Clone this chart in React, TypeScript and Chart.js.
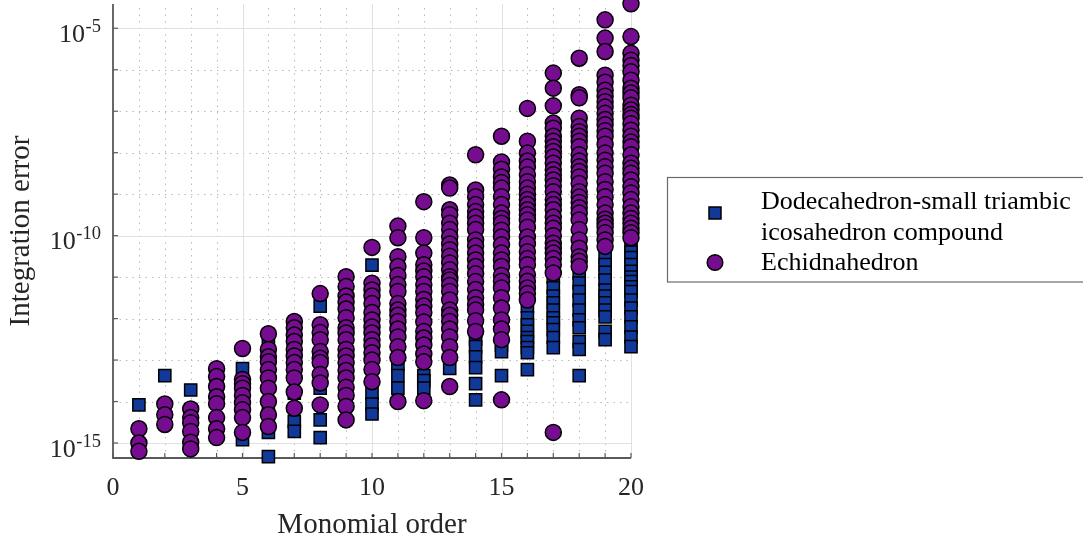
import React, { useEffect, useRef } from "react";
import { Chart, registerables } from "chart.js";

Chart.register(...registerables);

// Monomial orders (x categories)
const ORDERS: number[] = [1, 2, 3, 4, 5, 6, 7, 8, 9, 10, 11, 12, 13, 14, 15, 16, 17, 18, 19, 20];

// Integration errors, Dodecahedron-small triambic icosahedron compound (one list per order)
const DODECA_ERRORS: number[][] = [
  [8.3e-15],
  [4.2e-14],
  [1.9e-14, 6.3e-15],
  [2.3e-14, 1e-14],
  [6.2e-14, 2.5e-14, 1.2e-15],
  [2.5e-13, 5e-15, 1.8e-15, 4.7e-16],
  [1.6e-14, 3.3e-15, 1.9e-15],
  [2.0e-12, 2.1e-14, 3.6e-15, 1.35e-15],
  [4e-13, 6.3e-14, 1.26e-14],
  [1.95e-11, 1.6e-14, 8.7e-15, 5.0e-15],
  [1.26e-13, 7.9e-14, 4.2e-14, 2.1e-14],
  [2e-13, 4.2e-14, 3.2e-14, 2.1e-14],
  [1.26e-12, 2.5e-13, 6.3e-14],
  [9.3e-13, 5e-13, 3.2e-13, 2.1e-13, 1.2e-13, 6.6e-14, 2.7e-14, 1.1e-14],
  [1.26e-12, 5.4e-13, 2.3e-13, 1.6e-13, 4.2e-14],
  [2e-12, 1.05e-12, 7.1e-13, 4.9e-13, 3.5e-13, 2.8e-13, 2e-13, 1.5e-13, 5.9e-14],
  [1e-11, 5.5e-12, 3.5e-12, 2.4e-12, 1.6e-12, 1.05e-12, 7.9e-13, 5.4e-13, 3.5e-13, 2.0e-13],
  [1.26e-11, 7.2e-12, 4.5e-12, 2.8e-12, 1.6e-12, 9.3e-13, 6.0e-13, 2.8e-13, 1.8e-13, 4.2e-14],
  [2.95e-11, 2.0e-11, 1.3e-11, 8.5e-12, 4.9e-12, 3.5e-12, 2.4e-12, 1.6e-12, 1.1e-12, 4.9e-13, 3.1e-13],
  [5.5e-11, 4e-11, 2.95e-11, 2e-11, 1.38e-11, 1e-11, 7.8e-12, 5.8e-12, 4.5e-12, 2.8e-12, 1.8e-12, 1.1e-12, 6.3e-13, 3.6e-13, 2.1e-13],
];

// Integration errors, Echidnahedron (one list per order)
const ECHIDNA_ERRORS: number[][] = [
  [2.2e-15, 1e-15, 6.3e-16],
  [8.7e-15, 4.8e-15, 2.8e-15],
  [6.6e-15, 4.1e-15, 3.1e-15, 1.9e-15, 1.05e-15, 7.2e-16],
  [6.2e-14, 4.0e-14, 2.3e-14, 1.3e-14, 8.9e-15, 4.1e-15, 2.2e-15, 1.35e-15],
  [1.9e-13, 3.4e-14, 2.7e-14, 2.1e-14, 1.4e-14, 9.3e-15, 6.3e-15, 4.1e-15, 1.8e-15],
  [4.3e-13, 1.8e-13, 1.2e-13, 9.1e-14, 5.9e-14, 3.7e-14, 2.1e-14, 1e-14, 4.8e-15, 2.5e-15],
  [8.5e-13, 6.0e-13, 4e-13, 2.8e-13, 1.8e-13, 1.26e-13, 8.7e-14, 5.9e-14, 3.7e-14, 1.7e-14, 6.9e-15],
  [4.0e-12, 7.1e-13, 4.6e-13, 3.1e-13, 1.6e-13, 1.1e-13, 8.7e-14, 4.5e-14, 2.8e-14, 8.3e-15],
  [1.02e-11, 5.9e-12, 3.5e-12, 2.5e-12, 1.7e-12, 1.05e-12, 6.0e-13, 4.5e-13, 3.1e-13, 1.8e-13, 1.26e-13, 8.7e-14, 5.6e-14, 3.7e-14, 2.2e-14, 1.4e-14, 7.6e-15, 3.6e-15],
  [5.2e-11, 7.1e-12, 4.9e-12, 3.5e-12, 2.3e-12, 1.4e-12, 9.3e-13, 6.3e-13, 4.5e-13, 3.1e-13, 2.2e-13, 1.5e-13, 1e-13, 5.9e-14, 3.0e-14],
  [1.7e-10, 8.9e-11, 3.1e-11, 1.8e-11, 1.1e-11, 6.6e-12, 4.5e-12, 2.3e-12, 1.6e-12, 1.2e-12, 8.5e-13, 5.6e-13, 3.6e-13, 2.1e-13, 1.15e-13, 1e-14],
  [6.6e-10, 8.9e-11, 3.8e-11, 2e-11, 1.4e-11, 1.02e-11, 6.6e-12, 4.5e-12, 2.9e-12, 2e-12, 1.4e-12, 8.3e-13, 4.9e-13, 3.4e-13, 2.3e-13, 1.4e-13, 9.1e-14, 1.05e-14],
  [1.66e-9, 1.4e-9, 4.2e-10, 3.2e-10, 2.0e-10, 1.4e-10, 9.3e-11, 6.3e-11, 4.6e-11, 3.2e-11, 2.2e-11, 1.5e-11, 1.02e-11, 8.5e-12, 6.3e-12, 4.5e-12, 2.8e-12, 1.6e-12, 1.2e-12, 8.5e-13, 5.6e-13, 3.6e-13, 2.1e-13, 1.15e-13, 2.3e-14],
  [8.9e-9, 1.26e-9, 8.7e-10, 5.6e-10, 3.8e-10, 2.8e-10, 2.0e-10, 1.4e-10, 7.9e-11, 5.6e-11, 3.8e-11, 2.6e-11, 1.8e-11, 1.2e-11, 7.8e-12, 5e-12, 3.2e-12, 2.2e-12, 1.6e-12, 8.9e-13, 4.9e-13],
  [2.5e-8, 6.0e-9, 4e-9, 2.6e-9, 1.9e-9, 1.4e-9, 8.7e-10, 5.6e-10, 3.5e-10, 2.6e-10, 2.0e-10, 1.35e-10, 9.3e-11, 6e-11, 3.8e-11, 2.6e-11, 1.8e-11, 1.1e-11, 7.9e-12, 5.5e-12, 3.2e-12, 1.8e-12, 9.3e-13, 5.6e-13, 3.1e-13, 1.1e-14],
  [1.17e-7, 1.9e-8, 9.8e-9, 6.3e-9, 4.5e-9, 2.95e-9, 2e-9, 1.4e-9, 1e-9, 7.4e-10, 5.6e-10, 4.2e-10, 3.2e-10, 2.4e-10, 1.6e-10, 9.3e-11, 6.3e-11, 4.1e-11, 2.8e-11, 2e-11, 1.15e-11, 7.9e-12, 5.5e-12, 4e-12, 2.8e-12],
  [8.3e-7, 3.6e-7, 1.35e-7, 5.2e-8, 3.9e-8, 2.5e-8, 1.9e-8, 1.4e-8, 1.07e-8, 7.9e-9, 5.6e-9, 3.9e-9, 2.95e-9, 2.2e-9, 1.6e-9, 1.15e-9, 7.4e-10, 5.6e-10, 4.2e-10, 2.8e-10, 2e-10, 1.5e-10, 1e-10, 6.6e-11, 5e-11, 3.8e-11, 2.8e-11, 2e-11, 1.26e-11, 1.8e-15],
  [1.9e-6, 2.5e-7, 2.1e-7, 6.8e-8, 4.3e-8, 3.2e-8, 2.5e-8, 1.9e-8, 1.4e-8, 8.9e-9, 6.3e-9, 4.6e-9, 3.5e-9, 2.6e-9, 1.8e-9, 1.15e-9, 8.5e-10, 6.3e-10, 4.7e-10, 3.5e-10, 2.4e-10, 1.4e-10, 7.9e-11, 5e-11, 3.1e-11, 2.4e-11, 1.8e-11],
  [1.6e-5, 5.8e-6, 2.75e-6, 7.4e-7, 5e-7, 3.2e-7, 2.3e-7, 1.7e-7, 1.26e-7, 8.9e-8, 6.3e-8, 4.7e-8, 3.4e-8, 2.5e-8, 1.6e-8, 9.8e-9, 6.6e-9, 4.6e-9, 3.2e-9, 2e-9, 1.3e-9, 8.7e-10, 5.6e-10, 3.5e-10, 2.5e-10, 2e-10, 1.6e-10, 1.17e-10, 7.9e-11, 5.5e-11],
  [3.9e-5, 6.3e-6, 2.5e-6, 1.7e-6, 1.26e-6, 8.9e-7, 5.6e-7, 3.6e-7, 2.75e-7, 2.1e-7, 1.4e-7, 1.07e-7, 8.3e-8, 6.8e-8, 5e-8, 3.5e-8, 2.5e-8, 1.8e-8, 1.4e-8, 8.9e-9, 5.6e-9, 4.2e-9, 3.2e-9, 2.2e-9, 1.5e-9, 1.07e-9, 7.4e-10, 5e-10, 3.5e-10, 2.6e-10, 2e-10, 1.5e-10, 1.17e-10, 8.9e-11],
];

const SERIES_LABELS: string[][] = [
  ["Dodecahedron-small triambic", "icosahedron compound"],
  ["Echidnahedron"],
];
const X_TICK_LABELS: number[] = [0, 5, 10, 15, 20];
const Y_TICK_EXPONENTS: number[] = [-5, -10, -15];
const X_TITLE = "Monomial order";
const Y_TITLE = "Integration error";

const X_MIN = 0;
const X_MAX = 20;
const Y_MIN = 4.35e-16;
const Y_MAX = 3.85e-5;

const BLUE = "#10399a";
const PURPLE = "#760c8f";
const FONT = '"Liberation Serif", "Times New Roman", serif';

function toPoints(lists: number[][]) {
  const pts: { x: number; y: number }[] = [];
  lists.forEach((vals, i) => vals.forEach((v) => pts.push({ x: ORDERS[i], y: v })));
  return pts;
}

const decorPlugin = {
  id: "matlabDecor",
  beforeDatasetsDraw(chart: any) {
    const { ctx, chartArea } = chart;
    const { left, right, top, bottom } = chartArea;
    const xs = chart.scales.x;
    const ys = chart.scales.y;
    ctx.save();

    // minor grid (dotted)
    ctx.strokeStyle = "#b9b9b9";
    ctx.lineWidth = 1;
    ctx.setLineDash([1.5, 5]);
    for (let i = X_MIN; i <= X_MAX; i++) {
      if (i % 5 === 0) continue;
      const px = Math.round(xs.getPixelForValue(i)) + 0.5;
      ctx.beginPath();
      ctx.moveTo(px, bottom);
      ctx.lineTo(px, top);
      ctx.stroke();
    }
    for (let e = -15; e <= -5; e++) {
      if (e % 5 === 0) continue;
      const py = Math.round(ys.getPixelForValue(Math.pow(10, e))) + 0.5;
      ctx.beginPath();
      ctx.moveTo(left, py);
      ctx.lineTo(right, py);
      ctx.stroke();
    }
    // major grid (solid)
    ctx.setLineDash([]);
    ctx.strokeStyle = "#e1e1e1";
    X_TICK_LABELS.forEach((v) => {
      const px = Math.round(xs.getPixelForValue(v)) + 0.5;
      ctx.beginPath();
      ctx.moveTo(px, bottom);
      ctx.lineTo(px, top);
      ctx.stroke();
    });
    Y_TICK_EXPONENTS.forEach((e) => {
      const py = Math.round(ys.getPixelForValue(Math.pow(10, e))) + 0.5;
      ctx.beginPath();
      ctx.moveTo(left, py);
      ctx.lineTo(right, py);
      ctx.stroke();
    });

    // axis lines
    ctx.strokeStyle = "#5a5a5a";
    ctx.lineWidth = 1.8;
    ctx.beginPath();
    ctx.moveTo(left, top);
    ctx.lineTo(left, bottom);
    ctx.lineTo(right, bottom);
    ctx.stroke();
    // ticks
    ctx.lineWidth = 1.2;
    for (let i = X_MIN; i <= X_MAX; i++) {
      const px = xs.getPixelForValue(i);
      ctx.beginPath();
      ctx.moveTo(px, bottom);
      ctx.lineTo(px, bottom - 5);
      ctx.stroke();
    }
    for (let e = -15; e <= -5; e++) {
      const py = ys.getPixelForValue(Math.pow(10, e));
      ctx.beginPath();
      ctx.moveTo(left, py);
      ctx.lineTo(left + 5, py);
      ctx.stroke();
    }

    // tick labels
    ctx.fillStyle = "#262626";
    ctx.textBaseline = "alphabetic";
    ctx.font = `26px ${FONT}`;
    ctx.textAlign = "center";
    X_TICK_LABELS.forEach((v) => {
      ctx.fillText(String(v), xs.getPixelForValue(v), 495);
    });
    Y_TICK_EXPONENTS.forEach((e) => {
      const py = ys.getPixelForValue(Math.pow(10, e));
      const sup = String(e);
      ctx.font = `18.5px ${FONT}`;
      const sw = ctx.measureText(sup).width;
      ctx.textAlign = "right";
      ctx.fillText(sup, 101, py + 3.5);
      ctx.font = `26px ${FONT}`;
      ctx.fillText("10", 101 - sw - 0.5, py + 13.5);
    });

    // axis titles
    ctx.font = `29px ${FONT}`;
    ctx.textAlign = "center";
    ctx.fillText(X_TITLE, (left + right) / 2, 533);
    ctx.save();
    ctx.translate(28.5, (top + bottom) / 2);
    ctx.rotate(-Math.PI / 2);
    ctx.fillText(Y_TITLE, 0, 0);
    ctx.restore();

    // legend
    ctx.fillStyle = "#ffffff";
    ctx.fillRect(667.5, 177.5, 420, 104.5);
    ctx.strokeStyle = "#6a6a6a";
    ctx.lineWidth = 1.2;
    ctx.strokeRect(667.5, 177.5, 420, 104.5);
    // markers
    ctx.lineWidth = 1.5;
    ctx.strokeStyle = "#000000";
    ctx.fillStyle = BLUE;
    ctx.beginPath();
    ctx.rect(709, 207, 12, 12);
    ctx.fill();
    ctx.stroke();
    ctx.fillStyle = PURPLE;
    ctx.beginPath();
    ctx.arc(715, 262.5, 7.8, 0, Math.PI * 2);
    ctx.fill();
    ctx.stroke();
    ctx.fillStyle = "#000000";
    ctx.font = `26px ${FONT}`;
    ctx.textAlign = "left";
    ctx.fillText(SERIES_LABELS[0][0], 761, 208.5);
    ctx.fillText(SERIES_LABELS[0][1], 761, 239.5);
    ctx.fillText(SERIES_LABELS[1][0], 761, 270);

    ctx.restore();
  },
};

export default function App() {
  const ref = useRef<HTMLCanvasElement | null>(null);
  useEffect(() => {
    document.body.style.margin = "0";
    const canvas = ref.current!;
    const chart = new Chart(canvas, {
      type: "scatter",
      data: {
        datasets: [
          {
            label: SERIES_LABELS[0].join(" "),
            data: toPoints(DODECA_ERRORS),
            pointStyle: "rect",
            pointRadius: 8.6,
            backgroundColor: BLUE,
            borderColor: "#000000",
            borderWidth: 1.5,
            clip: false as any,
            order: 2,
          },
          {
            label: SERIES_LABELS[1][0],
            data: toPoints(ECHIDNA_ERRORS),
            pointStyle: "circle",
            pointRadius: 8,
            backgroundColor: PURPLE,
            borderColor: "#000000",
            borderWidth: 1.5,
            clip: false as any,
            order: 1,
          },
        ],
      },
      options: {
        animation: false,
        responsive: false,
        events: [],
        layout: { autoPadding: false, padding: { left: 113, right: 1083 - 631, top: 4, bottom: 539 - 458 } },
        scales: {
          x: { type: "linear", min: X_MIN, max: X_MAX, display: false },
          y: { type: "logarithmic", min: Y_MIN, max: Y_MAX, display: false },
        },
        plugins: { legend: { display: false }, tooltip: { enabled: false } },
      },
      plugins: [decorPlugin],
    });
    return () => chart.destroy();
  }, []);
  return (
    <div style={{ position: "relative", width: 1083, height: 539 }}>
      <canvas ref={ref} width={1083} height={539} style={{ width: 1083, height: 539, display: "block" }} />
    </div>
  );
}
